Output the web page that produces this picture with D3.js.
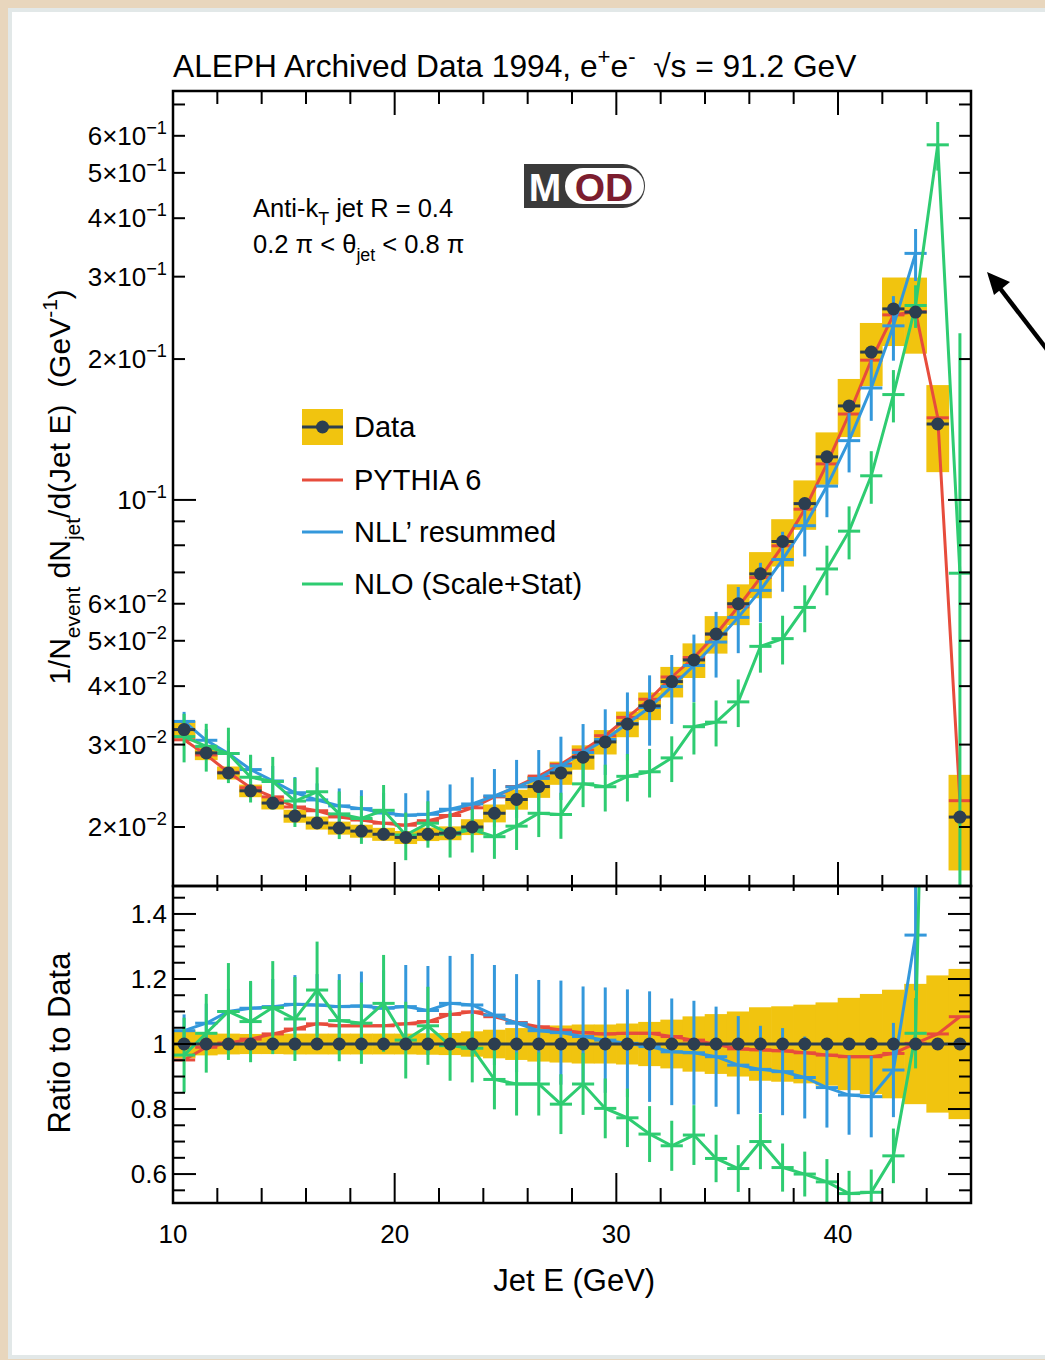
<!DOCTYPE html>
<html><head><meta charset="utf-8">
<script src="https://cdn.jsdelivr.net/npm/d3@7"></script>
<style>body{margin:0;background:#e8d6bd;} svg{display:block}</style>
</head><body>
<svg id="c" width="1045" height="1360"></svg>
<script>
// ---------- data ----------
const jetE = [10.5,11.5,12.5,13.5,14.5,15.5,16.5,17.5,18.5,19.5,20.5,21.5,22.5,23.5,24.5,25.5,26.5,27.5,28.5,29.5,30.5,31.5,32.5,33.5,34.5,35.5,36.5,37.5,38.5,39.5,40.5,41.5,42.5,43.5,44.5,45.5];
const dataVal = [0.0323,0.0288,0.0261,0.0239,0.0225,0.0211,0.0204,0.0199,0.0196,0.0193,0.0190,0.0193,0.0194,0.0200,0.0214,0.0229,0.0244,0.0261,0.0282,0.0304,0.0332,0.0363,0.0409,0.0455,0.0517,0.0600,0.0695,0.0815,0.0982,0.1236,0.1588,0.207,0.256,0.252,0.1453,0.0210];
const dataSystRel = [0.044,0.035,0.032,0.031,0.031,0.032,0.032,0.032,0.032,0.032,0.032,0.033,0.034,0.039,0.044,0.049,0.054,0.057,0.060,0.060,0.063,0.068,0.075,0.085,0.092,0.100,0.113,0.116,0.121,0.128,0.142,0.154,0.167,0.185,0.211,0.231];
const pythiaRatio = [0.951,0.99,1.003,1.015,1.031,1.046,1.062,1.056,1.056,1.056,1.062,1.069,1.091,1.099,1.084,1.066,1.053,1.043,1.035,1.031,1.033,1.033,1.023,1.012,0.999,0.985,0.982,0.979,0.973,0.966,0.961,0.961,0.971,1.002,1.031,1.084];
const nllRatio = [1.041,1.064,1.10,1.11,1.115,1.122,1.12,1.115,1.117,1.11,1.115,1.103,1.125,1.12,1.089,1.064,1.041,1.035,1.023,1.012,1.002,0.992,0.976,0.973,0.961,0.935,0.922,0.915,0.897,0.866,0.843,0.838,0.92,1.335,null,null];
const nllRatioErr = [0.05,0.06,0.07,0.08,0.085,0.09,0.095,0.10,0.106,0.117,0.128,0.137,0.146,0.157,0.154,0.151,0.156,0.16,0.154,0.162,0.166,0.17,0.164,0.16,0.154,0.151,0.134,0.134,0.126,0.123,0.122,0.125,0.145,0.17,null,null];
const nloRatio = [0.966,1.033,1.10,1.069,1.112,1.077,1.166,1.072,1.064,1.125,1.012,1.056,0.995,0.987,0.891,0.877,0.877,0.815,0.877,0.802,0.773,0.723,0.687,0.72,0.648,0.617,0.70,0.62,0.60,0.576,0.54,0.544,0.656,1.033,3.95,3.32];
const nloRatioErr = [0.115,0.121,0.149,0.125,0.143,0.129,0.149,0.125,0.125,0.149,0.118,0.12,0.108,0.105,0.092,0.097,0.097,0.092,0.095,0.092,0.09,0.086,0.077,0.092,0.073,0.072,0.085,0.074,0.069,0.07,0.07,0.07,0.084,0.108,0.47,7.5];

const xMajorTicks = [10,20,30,40];
const xMinorTicks = [12,14,16,18,22,24,26,28,32,34,36,38,42,44];
const xTickLabels = ["10","20","30","40"];
const topYLabelTicks = [0.02,0.03,0.04,0.05,0.06,0.2,0.3,0.4,0.5,0.6];
const topYLabelMant = ["2","3","4","5","6","2","3","4","5","6"];
const topYLabelExp = ["−2","−2","−2","−2","−2","−1","−1","−1","−1","−1"];
const topYMajor = [0.1];
const topYMinor = [0.07,0.08,0.09,0.7];
const ratioMajor = [0.6,0.8,1.0,1.2,1.4];
const ratioLabels = ["0.6","0.8","1","1.2","1.4"];
const ratioMinor = [0.55,0.65,0.7,0.75,0.85,0.9,0.95,1.05,1.1,1.15,1.25,1.3,1.35,1.45];
const legendLabels = ["Data","PYTHIA 6","NLL’ resummed","NLO (Scale+Stat)"];

// ---------- style ----------
const C = {yellow:"#f1c40f", dark:"#2c3e50", red:"#e74c3c", blue:"#3498db", green:"#2ecc71"};
const FONT = "'Liberation Sans', Arial, Helvetica, sans-serif";
const NB = "\u00a0";

const svg = d3.select("#c");
svg.append("rect").attr("width",1045).attr("height",1360).attr("fill","#e8d6bd");
svg.append("rect").attr("x",10).attr("y",10).attr("width",1040).attr("height",1347).attr("fill","#fff").attr("stroke","#e2e8e8").attr("stroke-width",4);

const L=173, R=971, T=91, M=886, B=1203;
const x = d3.scaleLinear().domain([10,46]).range([L,R]);
const yTop = d3.scaleLog().domain([0.01496,0.748]).range([M,T]);
const yRat = d3.scaleLinear().domain([0.511,1.486]).range([B,M]);

const defs = svg.append("defs");
defs.append("clipPath").attr("id","clipTop").append("rect").attr("x",L).attr("y",T).attr("width",R-L).attr("height",M-T);
defs.append("clipPath").attr("id","clipRat").append("rect").attr("x",L).attr("y",M).attr("width",R-L).attr("height",B-M);

function rich(textSel, parts, fs){
  let shift=0;
  parts.forEach(p=>{
    const target = p.sub ? fs*0.32 : (p.sup ? -fs*0.42 : 0);
    const ts = textSel.append("tspan").text(p.t).attr("dy", target-shift);
    if(p.sub||p.sup) ts.attr("font-size", fs*0.7);
    shift = target;
  });
}

const rows = jetE.map((e,i)=>({e, lo:e-0.5, hi:e+0.5, d:dataVal[i], s:dataSystRel[i],
  py:pythiaRatio[i], nl:nllRatio[i], nle:nllRatioErr[i], no:nloRatio[i], noe:nloRatioErr[i]}));

function drawSeries(g, yS, isRatio){
  const val = (r, key)=> isRatio ? r[key] : (r[key]==null?null:r[key]*r.d);
  const err = (r, key)=> isRatio ? r[key] : (r[key]==null?null:r[key]*r.d);
  const yMin = yS.domain()[0], yMax = yS.domain()[1];
  const safeY = v => (!isRatio && v<=0) ? yS(yMin*0.3) : yS(v);
  g.append("g").selectAll("rect").data(rows).join("rect")
    .attr("x",r=>x(r.lo)-0.3).attr("width",r=>x(r.hi)-x(r.lo)+0.6)
    .attr("y",r=> isRatio ? yS(1+r.s) : yS(r.d*(1+r.s)))
    .attr("height",r=> isRatio ? yS(1-r.s)-yS(1+r.s) : yS(r.d*(1-r.s))-yS(r.d*(1+r.s)))
    .attr("fill",C.yellow);
  const inRange = v => v!=null && v>=yMin && v<=yMax;
  function model(key, ekey, color){
    const pts = rows.filter(r=>r[key]!=null);
    const line = d3.line().x(r=>x(r.e)).y(r=>yS(val(r,key)));
    const mg = g.append("g").attr("stroke",color).attr("stroke-width",3).attr("fill","none");
    mg.append("path").attr("d",line(pts));
    const shown = pts.filter(r=>inRange(val(r,key)));
    mg.selectAll("line.h").data(shown).join("line").attr("class","h")
      .attr("x1",r=>x(r.lo)).attr("x2",r=>x(r.hi)).attr("y1",r=>yS(val(r,key))).attr("y2",r=>yS(val(r,key)));
    if(ekey){
      mg.selectAll("line.v").data(shown).join("line").attr("class","v")
        .attr("x1",r=>x(r.e)).attr("x2",r=>x(r.e))
        .attr("y1",r=>safeY(val(r,key)-err(r,ekey))).attr("y2",r=>yS(val(r,key)+err(r,ekey)));
    }
  }
  model("py",null,C.red);
  model("nl","nle",C.blue);
  model("no","noe",C.green);
  const dg = g.append("g");
  if(isRatio){
    dg.append("line").attr("x1",x(10)).attr("x2",x(46)).attr("y1",yS(1)).attr("y2",yS(1)).attr("stroke",C.dark).attr("stroke-width",3);
  } else {
    dg.selectAll("line").data(rows).join("line")
      .attr("x1",r=>x(r.lo)).attr("x2",r=>x(r.hi)).attr("y1",r=>yS(r.d)).attr("y2",r=>yS(r.d))
      .attr("stroke",C.dark).attr("stroke-width",3);
  }
  dg.selectAll("circle").data(rows).join("circle")
    .attr("cx",r=>x(r.e)).attr("cy",r=> isRatio ? yS(1) : yS(r.d)).attr("r",6.5).attr("fill",C.dark);
}

drawSeries(svg.append("g").attr("clip-path","url(#clipTop)"), yTop, false);
drawSeries(svg.append("g").attr("clip-path","url(#clipRat)"), yRat, true);

// ---------- axes / ticks ----------
const ax = svg.append("g").attr("stroke","#000").attr("stroke-width",2);
function tick(x1,y1,x2,y2){ ax.append("line").attr("x1",x1).attr("y1",y1).attr("x2",x2).attr("y2",y2); }
xMajorTicks.forEach(v=>{ tick(x(v),T,x(v),T+24); tick(x(v),M,x(v),M-24); });
xMinorTicks.forEach(v=>{ tick(x(v),T,x(v),T+13); tick(x(v),M,x(v),M-11); });
topYMajor.forEach(v=>{ tick(L,yTop(v),L+23,yTop(v)); tick(R,yTop(v),R-23,yTop(v)); });
topYLabelTicks.concat(topYMinor).forEach(v=>{ tick(L,yTop(v),L+12,yTop(v)); tick(R,yTop(v),R-12,yTop(v)); });
xMajorTicks.forEach(v=>{ tick(x(v),M,x(v),M+9); tick(x(v),B,x(v),B-30); });
xMinorTicks.forEach(v=>{ tick(x(v),M,x(v),M+5); tick(x(v),B,x(v),B-15); });
ratioMajor.forEach(v=>{ tick(L,yRat(v),L+23,yRat(v)); tick(R,yRat(v),R-23,yRat(v)); });
ratioMinor.forEach(v=>{ tick(L,yRat(v),L+12,yRat(v)); tick(R,yRat(v),R-12,yRat(v)); });
svg.append("rect").attr("x",L).attr("y",T).attr("width",R-L).attr("height",M-T).attr("fill","none").attr("stroke","#000").attr("stroke-width",2.5);
svg.append("rect").attr("x",L).attr("y",M).attr("width",R-L).attr("height",B-M).attr("fill","none").attr("stroke","#000").attr("stroke-width",2.5);

// ---------- labels ----------
const txt = svg.append("g").attr("font-family",FONT).attr("fill","#000");
const TF = 26;
topYLabelTicks.forEach((v,i)=>{
  const t = txt.append("text").attr("x",167).attr("y",yTop(v)+9).attr("text-anchor","end").attr("font-size",TF);
  rich(t,[{t:topYLabelMant[i]+"×10"},{t:topYLabelExp[i],sup:true}],TF);
});
{
  const t = txt.append("text").attr("x",167).attr("y",yTop(0.1)+9).attr("text-anchor","end").attr("font-size",TF);
  rich(t,[{t:"10"},{t:"−1",sup:true}],TF);
}
ratioMajor.forEach((v,i)=>{
  txt.append("text").attr("x",167).attr("y",yRat(v)+9).attr("text-anchor","end").attr("font-size",TF).text(ratioLabels[i]);
});
xMajorTicks.forEach((v,i)=>{
  txt.append("text").attr("x",x(v)).attr("y",1243).attr("text-anchor","middle").attr("font-size",TF).text(xTickLabels[i]);
});
txt.append("text").attr("x",x(28.1)).attr("y",1291).attr("text-anchor","middle").attr("font-size",31).text("Jet E (GeV)");
{
  const t = txt.append("text").attr("transform","translate(70,487) rotate(-90)").attr("text-anchor","middle").attr("font-size",30);
  rich(t,[{t:"1/N"},{t:"event",sub:true},{t:" dN"},{t:"jet",sub:true},{t:"/d(Jet E)"+NB+NB+"(GeV"},{t:"-1",sup:true},{t:")"}],30);
}
txt.append("text").attr("transform","translate(70,1043) rotate(-90)").attr("text-anchor","middle").attr("font-size",31).text("Ratio to Data");
{
  const t = txt.append("text").attr("x",173).attr("y",77).attr("font-size",31.7);
  rich(t,[{t:"ALEPH Archived Data 1994, e"},{t:"+",sup:true},{t:"e"},{t:"-",sup:true},{t:NB+NB},{t:"√"},{t:"s = 91.2 GeV"}],31.7);
}
{
  const t = txt.append("text").attr("x",253).attr("y",217).attr("font-size",25.5);
  rich(t,[{t:"Anti-k"},{t:"T",sub:true},{t:" jet R = 0.4"}],25.5);
  const t2 = txt.append("text").attr("x",253).attr("y",253).attr("font-size",25.5);
  rich(t2,[{t:"0.2 π < θ"},{t:"jet",sub:true},{t:" < 0.8 π"}],25.5);
}

// ---------- legend ----------
const lg = svg.append("g");
const legY = [427,480,532,584];
const legColors = [C.dark,C.red,C.blue,C.green];
lg.append("rect").attr("x",302).attr("y",409).attr("width",41).attr("height",36).attr("fill",C.yellow);
legColors.forEach((c,i)=>{
  lg.append("line").attr("x1",302).attr("x2",343).attr("y1",legY[i]).attr("y2",legY[i]).attr("stroke",c).attr("stroke-width",3);
  lg.append("text").attr("x",354).attr("y",legY[i]+10).attr("font-family",FONT).attr("font-size",29).text(legendLabels[i]);
});
lg.append("circle").attr("cx",322.5).attr("cy",legY[0]).attr("r",6.5).attr("fill",C.dark);

// ---------- MOD logo ----------
const lo = svg.append("g");
lo.append("path").attr("d","M524,164 H623 A22,22 0 0 1 623,208 H524 Z").attr("fill","#3a3a3a");
lo.append("rect").attr("x",565).attr("y",168).attr("width",79).attr("height",36).attr("rx",18).attr("fill","#fff");
lo.append("text").attr("x",545).attr("y",201).attr("text-anchor","middle").attr("font-family",FONT).attr("font-weight","bold").attr("font-size",39).attr("fill","#fff").text("M");
lo.append("text").attr("x",604).attr("y",201).attr("text-anchor","middle").attr("font-family",FONT).attr("font-weight","bold").attr("font-size",39).attr("fill","#7c1d2f").text("OD");

// ---------- arrow ----------
const ar = svg.append("g");
ar.append("line").attr("x1",1052).attr("y1",356).attr("x2",999).attr("y2",287).attr("stroke","#000").attr("stroke-width",4.5);
ar.append("path").attr("d","M987,272 L1010,282 L994,295 Z").attr("fill","#000");
</script>
</body></html>
